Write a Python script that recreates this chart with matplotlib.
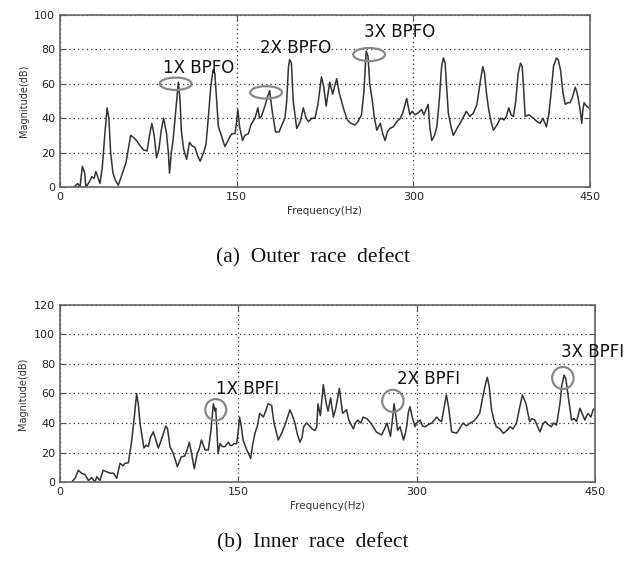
import matplotlib
matplotlib.use("Agg")
import matplotlib.pyplot as plt
from matplotlib.patches import Ellipse

# outer race defect spectrum (Hz, dB)
outer_freq = [12, 15, 17, 19, 21, 22, 25, 27, 29, 30.5, 32, 34, 36, 38, 40, 41.5, 43, 45, 47, 49.5,
              52, 54, 56, 58, 60, 62, 65, 68, 71, 74, 76, 78, 80, 82, 84, 86, 88, 90.5, 92, 93,
              94.5, 96, 98, 100.5, 102, 103, 105, 107.5, 110, 112, 114.6, 117, 119, 122, 124, 126, 128, 130, 131.5, 133,
              134.5, 137, 140, 142, 144, 146, 148.6, 150, 151, 152.5, 155, 157, 160, 162, 165.6, 168, 169.5, 171, 174, 176,
              178, 180, 183, 186, 189, 191, 192.5, 194, 195, 196.5, 198, 201, 204, 206.6, 209, 211, 214, 216.5, 219, 222,
              224, 226, 229, 231.5, 233, 235, 237, 239, 241, 244, 247, 250.5, 253, 256, 258, 260, 261.5, 263, 265, 267,
              269, 272, 274, 276, 278, 280, 283, 286, 289, 291, 294.4, 297, 299, 301.4, 304, 307, 309, 312.6, 314, 315.6,
              318, 320, 322, 324, 325.5, 327, 329.7, 332, 334, 337, 339.6, 342, 345, 348, 351, 354, 357, 359, 360.5, 362,
              364, 366, 368, 371, 374, 377, 379, 381, 383, 385, 387, 389, 391, 392.5, 395, 398, 402, 405, 407.6, 410,
              413, 415, 417, 419, 420, 421.5, 423, 425, 427, 429, 431, 433, 435, 437.5, 439, 440.6, 442, 443, 444, 445,
              447, 449]
outer_mag = [0, 2, 0, 12, 8, 0, 3, 6, 5, 9, 6, 2, 12, 30, 46, 40, 20, 8, 4, 1,
             6, 10, 14, 22, 30, 29, 27, 24, 21.5, 21, 30, 37, 30, 17, 22, 33, 40, 31, 20, 8,
             20, 27, 42, 61, 50, 33, 22, 16, 26, 24, 23, 18, 15, 20, 25, 41, 58, 68, 66, 50,
             35, 30, 23.5, 26, 29, 31, 31, 38, 45, 35, 27, 30, 31, 36, 40, 46, 40, 41, 47, 52,
             56, 45, 32, 32, 37, 40, 50, 70, 74, 72, 50, 34, 38, 46, 40, 38, 40, 40, 48, 64,
             58, 47, 61, 54, 58, 63, 55, 50, 45, 39, 37, 36, 38, 42, 55, 79, 76, 60, 51, 40,
             33, 37, 31, 27, 32, 34, 35, 38, 40, 43, 51.5, 42, 44, 42, 43, 45, 42, 48, 35, 27,
             30, 35, 50, 70, 75, 72, 43, 35, 30, 34, 37, 40, 44, 41, 43, 48, 62, 70, 66, 55,
             45, 38, 33, 36, 40, 39, 41, 46, 42, 41, 50, 66, 72, 70, 41, 42, 40, 38, 37, 40,
             35, 42, 55, 70, 72, 75, 74, 68, 55, 48, 49, 49, 52, 58, 55, 49, 43, 37, 45, 49,
             47, 46]

# inner race defect spectrum (Hz, dB)
inner_freq = [10, 13, 15.4, 18, 21, 24, 26.6, 29.4, 31, 33.6, 36.4, 39, 42, 45, 47.7, 50.5, 53, 54.7, 57.5, 60,
              62, 64.5, 66, 67.3, 70.6, 72.5, 74.3, 76, 78.5, 80, 82.7, 85, 87, 89, 90.5, 92.5, 95.3, 98.7, 100.5, 102,
              105, 107, 108.8, 110.5, 113, 115.5, 117, 119, 120.5, 122, 124.8, 127, 129, 130.5, 131, 132, 133, 134.6, 136.5, 138.8,
              141.6, 143, 144.4, 146.5, 148.6, 150, 151, 152.5, 154, 157, 160.4, 162, 164, 166, 168, 170, 171, 173, 175, 178,
              180, 183.6, 186.4, 189, 191, 193.4, 195.5, 197.6, 199.5, 201.8, 203.5, 205, 207.5, 210, 212, 214.5, 216, 217, 219, 221.5,
              224, 225.5, 227.6, 230, 232, 235, 237.7, 241, 243, 246.7, 248.5, 250.5, 253, 255, 258, 260.5, 263, 266, 268, 270.5,
              273, 275, 278, 280, 281, 282, 284, 286, 289, 290.5, 291.6, 293, 294.4, 296, 298.6, 300, 303, 305, 307, 310,
              312.6, 315, 316.8, 319, 321, 323, 325, 327, 329.4, 333.6, 336, 339, 342, 345, 347.6, 350, 353, 355, 357.5, 359.4,
              361, 363, 365, 367, 370, 373, 376, 378.5, 381, 384, 386.5, 389, 390.5, 392, 395, 397, 399.4, 401.5, 403.7, 406,
              408, 410.5, 413.4, 415, 417.7, 420.5, 422, 424, 425.5, 427.5, 430.3, 432.5, 434.5, 437.4, 439.5, 441.5, 443, 444.3, 446.5, 448.5,
              450]
inner_mag = [0, 3, 8, 6, 5, 1, 3, 0, 3.6, 1, 8, 7, 6, 6, 2.5, 12.7, 11, 12.7, 13, 26,
             40, 60, 52, 40, 23, 25, 24, 30, 34, 30, 23, 28, 33, 38, 36, 24, 19.4, 10.4, 14, 17,
             17.6, 22, 27, 20, 9, 19.4, 22, 28.5, 25, 21.7, 21.7, 35, 53, 48, 50, 35, 19.4, 26, 24, 24,
             27, 25, 24.6, 26, 26, 35, 44, 38, 28.5, 22, 16, 25, 33, 38, 46.5, 45, 44, 48, 53, 52,
             40, 28.5, 33, 38, 43, 49, 45, 40, 33, 27, 30, 37.5, 40, 38, 36, 35, 37.5, 53, 45, 66,
             53, 48, 57, 44, 50, 63.5, 46.5, 49, 42, 36, 40, 42, 40, 44, 43, 41, 38, 34, 33, 32,
             36, 40, 31, 45, 53, 48, 35, 37.5, 28.5, 33, 37.5, 47, 51, 45, 37.5, 40, 42, 38, 37.5, 39,
             40, 42, 44, 42, 41, 50, 59, 50, 34, 33, 36, 40, 38, 40, 41, 43, 46.5, 55, 65, 71,
             65, 49, 42, 37.5, 36, 33, 35, 37.5, 36, 40, 50, 59, 56, 53, 41, 43, 42, 38, 34, 39,
             41, 39, 37.5, 40, 38.6, 53, 65, 72.5, 70, 58, 42, 43, 41, 50, 46, 42, 45, 46.5, 44, 49,
             50]

outer_marks = [("1X BPFO", 98.2, 60, 27, 7.2, 118, 69),
               ("2X BPFO", 175, 55, 27, 7.2, 200, 81),
               ("3X BPFO", 262.5, 77, 27, 7.6, 288, 90)]
inner_marks = [("1X BPFI", 131, 49, 17.6, 14.5, 158, 63),
               ("2X BPFI", 280, 55, 18, 15, 310, 70),
               ("3X BPFI", 423, 70.5, 18, 15, 448, 88)]

plt.rcParams['font.family'] = ['DejaVu Sans']
fig = plt.figure(figsize=(6.3, 5.67), dpi=100)
ax1 = fig.add_axes([0.0952, 0.6702, 0.8413, 0.3034])
ax2 = fig.add_axes([0.0952, 0.1499, 0.8492, 0.3122])

def style(ax, ymax):
    ax.set_xlim(0, 450)
    ax.set_ylim(0, ymax)
    ax.set_xticks([0, 150, 300, 450])
    ax.set_yticks(range(0, ymax + 1, 20))
    ax.grid(True, linestyle=(0, (1, 2.5)), color='#333333', linewidth=0.9)
    ax.tick_params(direction='in', length=4, width=0.8, colors='#555555',
                   labelcolor='#222222', labelsize=8, top=True, right=True)
    for s in ax.spines.values():
        s.set_color('#666666')
        s.set_linewidth(1.2)
    ax.set_xlabel('Frequency(Hz)', fontsize=7.5, color='#333333', labelpad=3)
    ax.set_ylabel('Magnitude(dB)', fontsize=7, color='#333333', labelpad=4)

def marks(ax, items):
    for label, x, y, w, h, tx, ty in items:
        ax.add_patch(Ellipse((x, y), w, h, fill=False, edgecolor='#888888', linewidth=1.6, zorder=4))
        ax.text(tx, ty, label, ha='center', va='center', fontsize=12, color='#111111',
                zorder=5, clip_on=False)

ax1.plot(outer_freq, outer_mag, color='#333333', linewidth=1.1)
style(ax1, 100)
marks(ax1, outer_marks)

ax2.plot(inner_freq, inner_mag, color='#333333', linewidth=1.1)
style(ax2, 120)
marks(ax2, inner_marks)

fig.text(0.497, 0.545, '(a)  Outer  race  defect', ha='center', va='center',
         fontsize=15.5, family='Liberation Serif', color='#111111')
fig.text(0.497, 0.042, '(b)  Inner  race  defect', ha='center', va='center',
         fontsize=15.5, family='Liberation Serif', color='#111111')

fig.savefig('out.png', dpi=100)
